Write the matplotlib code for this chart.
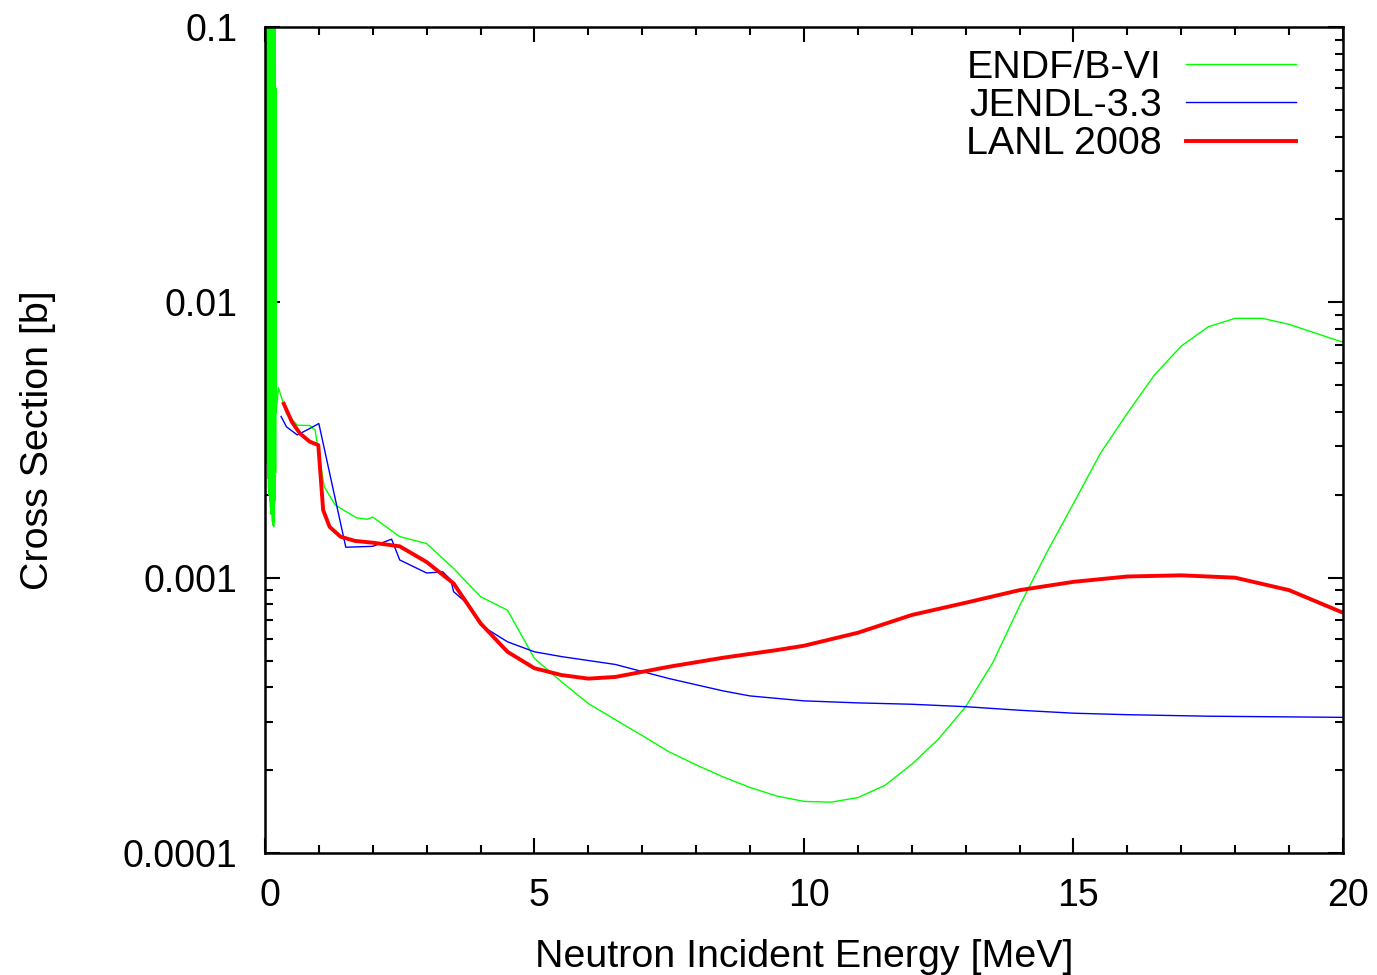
import numpy as np
import matplotlib
matplotlib.use("Agg")
import matplotlib.pyplot as plt
import matplotlib.transforms as mtransforms
from matplotlib.ticker import FixedLocator, LogLocator, NullFormatter, FuncFormatter

# ENDF/B-VI : resonance region (dense spikes) below ~0.22 MeV
endf_res_e = [0.000, 0.006, 0.012, 0.018, 0.024, 0.030, 0.036, 0.042, 0.048, 0.054,
              0.060, 0.066, 0.072, 0.078, 0.084, 0.090, 0.096, 0.102, 0.108, 0.114,
              0.120, 0.126, 0.132, 0.138, 0.144, 0.150, 0.156, 0.162, 0.168, 0.174,
              0.180, 0.186, 0.192, 0.198, 0.204, 0.210]
endf_res_xs = [0.50, 0.0045, 0.50, 0.0034, 0.50, 0.0030, 0.50, 0.0026, 0.50, 0.0023,
               0.50, 0.0021, 0.50, 0.0020, 0.50, 0.0019, 0.50, 0.0018, 0.50, 0.0017,
               0.50, 0.0017, 0.50, 0.0016, 0.50, 0.00155, 0.50, 0.00153, 0.45, 0.0016,
               0.30, 0.0019, 0.12, 0.0024, 0.060, 0.0040]

# ENDF/B-VI : smooth region
endf_e = [0.25, 0.40, 0.60, 0.83, 0.93, 1.1, 1.3, 1.5, 1.7, 1.9, 2.0, 2.5, 3.0, 3.5,
          4.0, 4.5, 5.0, 5.5, 6.0, 6.5, 7.0, 7.5, 8.0, 8.5, 9.0, 9.5, 10.0, 10.5,
          11.0, 11.5, 12.0, 12.5, 13.0, 13.5, 14.0, 14.5, 15.0, 15.5, 16.0, 16.5,
          17.0, 17.5, 18.0, 18.5, 19.0, 20.0]
endf_xs = [0.0049, 0.00395, 0.00358, 0.00357, 0.00344, 0.00214, 0.00184, 0.00174,
           0.00165, 0.00163, 0.00166, 0.00141, 0.00133, 0.00108, 0.000853, 0.000762,
           0.000509, 0.000419, 0.000349, 0.000305, 0.000267, 0.000233, 0.000209,
           0.000189, 0.000173, 0.000161, 0.000154, 0.000153, 0.000159, 0.000176,
           0.00021, 0.00026, 0.00034, 0.00049, 0.00079, 0.00123, 0.00186, 0.00283,
           0.00396, 0.00544, 0.00694, 0.00815, 0.00875, 0.00875, 0.00832, 0.00716]

# JENDL-3.3
jendl_e = [0.30, 0.40, 0.60, 0.83, 1.0, 1.5, 2.0, 2.35, 2.5, 3.0, 3.3, 3.45, 3.5,
           3.75, 4.0, 4.5, 5.0, 5.5, 6.5, 7.5, 8.5, 9.0, 10.0, 11.0, 12.0, 13.0,
           14.0, 15.0, 16.0, 17.5, 20.0]
jendl_xs = [0.00385, 0.00353, 0.00330, 0.00348, 0.00363, 0.00129, 0.00130, 0.00138,
            0.00116, 0.00104, 0.00105, 0.00098, 0.00089, 0.000807, 0.000673,
            0.000585, 0.000538, 0.000517, 0.000484, 0.00043, 0.000388, 0.000372,
            0.000357, 0.000351, 0.000347, 0.00034, 0.00033, 0.000322, 0.000318,
            0.000314, 0.000311]

# LANL 2008
lanl_e = [0.35, 0.50, 0.65, 0.83, 0.99, 1.08, 1.2, 1.4, 1.67, 2.0, 2.5, 3.0, 3.5,
          4.0, 4.5, 5.0, 5.5, 6.0, 6.5, 7.5, 8.5, 9.5, 10.0, 11.0, 12.0, 13.0,
          14.0, 15.0, 16.0, 17.0, 18.0, 19.0, 20.0]
lanl_xs = [0.00428, 0.00368, 0.00334, 0.00312, 0.00303, 0.00176, 0.00153, 0.00141,
           0.00136, 0.00134, 0.0013, 0.00114, 0.000953, 0.000683, 0.000538,
           0.000469, 0.000443, 0.00043, 0.000436, 0.000475, 0.000512, 0.000546,
           0.000566, 0.000631, 0.000732, 0.000811, 0.000901, 0.000966, 0.00101,
           0.00102, 0.001, 0.000901, 0.000746]

plt.rcParams['font.family'] = ['Liberation Sans', 'DejaVu Sans']
fs = 27      # tick labels
fs_lab = 28.4  # axis labels / legend

fig = plt.figure(figsize=(13.77, 9.75), dpi=100)
ax = fig.add_axes([0.1924, 0.1251, 0.9753 - 0.1924, 0.9723 - 0.1251])

green = '#00ff00'
ax.plot(endf_res_e + endf_e, endf_res_xs + endf_xs, color=green, lw=1.0,
        label='ENDF/B-VI')
ax.plot(jendl_e, jendl_xs, color='#0000ff', lw=1.0, label='JENDL-3.3')
ax.plot(lanl_e, lanl_xs, color='#ff0000', lw=2.8, label='LANL 2008')

ax.set_yscale('log')
ax.set_xlim(0, 20)
ax.set_ylim(1e-4, 0.1)

ax.xaxis.set_major_locator(FixedLocator([0, 5, 10, 15, 20]))
ax.xaxis.set_minor_locator(FixedLocator(list(range(0, 21))))
ax.yaxis.set_major_locator(FixedLocator([1e-4, 1e-3, 1e-2, 1e-1]))
ax.yaxis.set_minor_locator(LogLocator(base=10, subs=range(2, 10)))
ax.yaxis.set_minor_formatter(NullFormatter())
ylabels = {1e-4: '0.0001', 1e-3: '0.001', 1e-2: '0.01', 1e-1: '0.1'}
ax.yaxis.set_major_formatter(FuncFormatter(
    lambda v, p: min(ylabels.items(), key=lambda kv: abs(np.log10(kv[0]) - np.log10(v)))[1]))

ax.tick_params(which='both', direction='in', top=True, right=True, width=1.5,
               labelsize=fs)
ax.tick_params(which='major', length=11)
ax.tick_params(which='minor', length=6)
ax.tick_params(axis='y', which='major', pad=20)
ax.tick_params(axis='x', which='major', pad=18)
for s in ax.spines.values():
    s.set_linewidth(1.8)

# gnuplot puts the x tick labels slightly to the right of the tick
shift = mtransforms.ScaledTranslation(5 / 100, 0, fig.dpi_scale_trans)
for lbl in ax.get_xticklabels():
    lbl.set_transform(lbl.get_transform() + shift)

ax.set_xlabel('Neutron Incident Energy [MeV]', fontsize=fs_lab, labelpad=18)
ax.set_ylabel('Cross Section [b]', fontsize=fs_lab, labelpad=48)

ax.legend(loc='upper right', bbox_to_anchor=(0.982, 1.006), frameon=False,
          markerfirst=False, fontsize=fs_lab, handlelength=2.8, handletextpad=0.6,
          labelspacing=0.06, borderpad=0.2)

fig.savefig('out.png', dpi=100)
